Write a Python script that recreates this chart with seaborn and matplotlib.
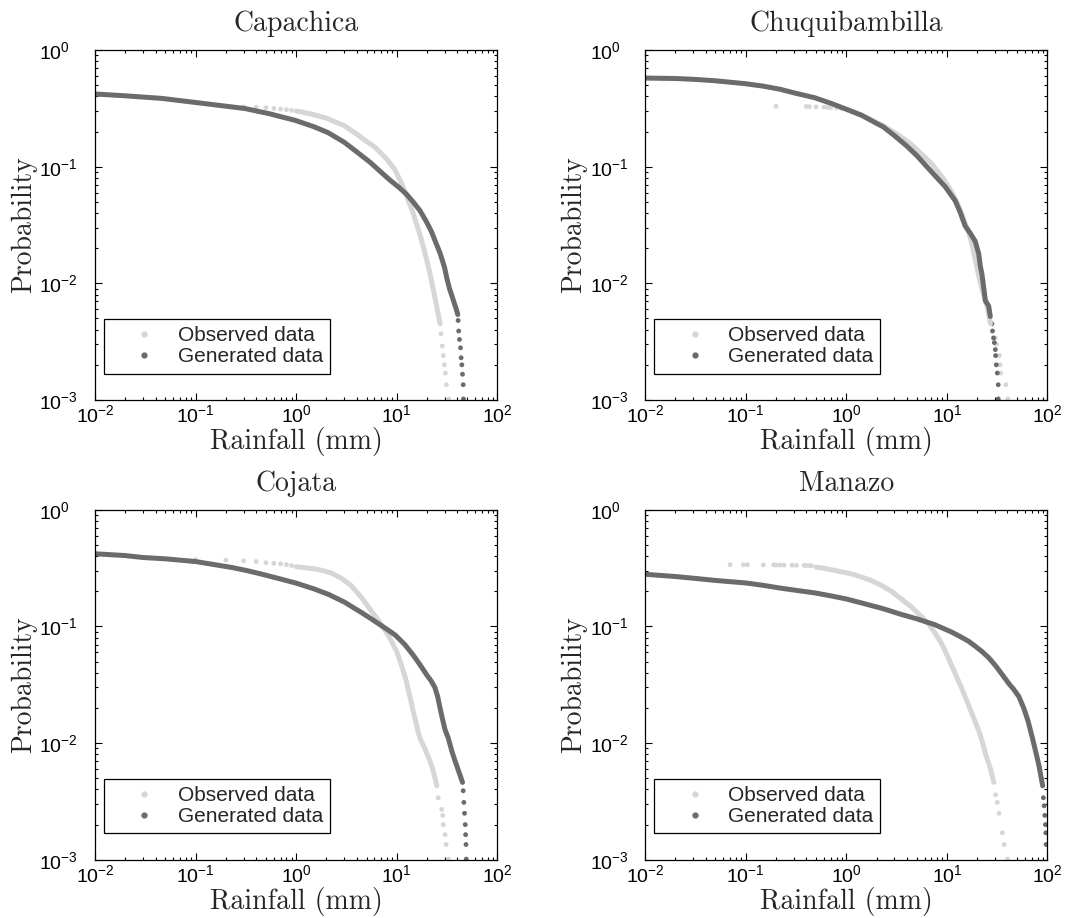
import matplotlib
matplotlib.use('Agg')
import matplotlib.pyplot as plt
from matplotlib.lines import Line2D
from matplotlib.ticker import LogLocator, NullFormatter
import seaborn as sns
import pandas as pd
import numpy as np

# values: (rainfall mm, exceedance probability)
# "line" = dense part of the curve, "dots" = separate points

cap_obs_line = [(1.0, 0.300), (1.41, 0.283), (2.0, 0.26), (3.0, 0.225), (4.0, 0.19), (5.0, 0.165),
                (6.0, 0.148), (7.0, 0.13), (8.0, 0.115), (9.5, 0.095), (11.0, 0.074), (12.5, 0.056),
                (14.4, 0.041), (16.8, 0.027), (18.8, 0.019), (21.1, 0.0127), (23.7, 0.0079),
                (25.6, 0.0056), (27.0, 0.0045)]
cap_obs_dots = [(0.3, 0.325), (0.4, 0.323), (0.5, 0.320), (0.6, 0.316), (0.7, 0.312), (0.8, 0.308), (0.9, 0.304),
                (27.5, 0.0037), (28.3, 0.0029), (29.0, 0.0024), (29.7, 0.0020), (30.4, 0.0017),
                (31.1, 0.00135), (32.7, 0.00102)]
cap_gen_line = [(0.01, 0.42), (0.02, 0.405), (0.046, 0.385), (0.1, 0.355), (0.2, 0.33), (0.31, 0.315),
                (0.535, 0.285), (0.97, 0.25), (1.5, 0.22), (2.07, 0.196), (3.0, 0.162), (4.43, 0.125),
                (5.5, 0.108), (6.75, 0.092), (8.5, 0.077), (10.6, 0.066), (12.5, 0.058), (14.5, 0.050),
                (17.0, 0.042), (19.6, 0.034), (22.0, 0.028), (24.6, 0.022), (27.0, 0.018), (29.8, 0.0137),
                (31.5, 0.011), (33.4, 0.009), (35.5, 0.0077), (37.4, 0.0067), (39.0, 0.006), (40.4, 0.0054)]
cap_gen_dots = [(40.7, 0.0048), (41.2, 0.0039), (42.0, 0.0033), (43.0, 0.0028), (43.6, 0.0023),
                (44.3, 0.0020), (45.0, 0.00166), (45.7, 0.00135), (46.0, 0.00102)]

chu_obs_line = [(1.0, 0.31), (1.5, 0.27), (2.32, 0.225), (3.2, 0.19), (4.33, 0.158), (5.5, 0.13),
                (6.92, 0.108), (8.2, 0.09), (9.45, 0.077), (11.0, 0.062), (12.4, 0.051), (13.8, 0.041),
                (15.1, 0.033), (16.5, 0.027), (17.7, 0.022), (18.8, 0.017), (19.9, 0.0136), (21.0, 0.011),
                (22.3, 0.009), (23.7, 0.0075), (25.1, 0.0064), (27.1, 0.0045)]
chu_obs_dots = [(0.2, 0.33), (0.4, 0.328), (0.43, 0.327), (0.5, 0.326), (0.6, 0.324), (0.65, 0.322),
                (0.7, 0.32), (0.8, 0.318), (0.9, 0.315),
                (30.3, 0.0034), (31.2, 0.0030), (33.2, 0.0024), (33.7, 0.0020), (34.2, 0.0017),
                (38.6, 0.00135), (40.4, 0.00102)]
chu_gen_line = [(0.01, 0.575), (0.02, 0.57), (0.0316, 0.56), (0.05, 0.545), (0.098, 0.515), (0.15, 0.49),
                (0.222, 0.46), (0.3, 0.43), (0.485, 0.39), (0.7, 0.35), (1.06, 0.305), (1.42, 0.276),
                (2.0, 0.235), (2.32, 0.22), (3.0, 0.185), (4.0, 0.15), (5.0, 0.125), (6.0, 0.105),
                (7.5, 0.085), (9.67, 0.067), (12.1, 0.051), (13.5, 0.041), (15.2, 0.031), (17.0, 0.027),
                (19.1, 0.023), (20.7, 0.018), (21.5, 0.014), (22.3, 0.012), (23.5, 0.0085), (24.1, 0.0071),
                (26.0, 0.0064), (27.0, 0.0052)]
chu_gen_dots = [(28.0, 0.0045), (28.4, 0.0039), (29.1, 0.0034), (29.6, 0.0031), (30.3, 0.0027),
                (30.5, 0.0024), (31.0, 0.0020), (31.7, 0.0017), (32.4, 0.00135), (32.4, 0.00102)]

coj_obs_line = [(1.0, 0.325), (1.6, 0.31), (2.19, 0.289), (2.77, 0.261), (3.5, 0.225), (4.43, 0.178),
                (5.0, 0.155), (5.6, 0.135), (6.3, 0.118), (7.08, 0.103), (8.0, 0.087), (8.61, 0.078),
                (9.9, 0.062), (11.0, 0.048), (12.2, 0.036), (13.5, 0.025), (14.5, 0.019), (15.5, 0.015),
                (16.5, 0.012), (17.4, 0.0105), (19.0, 0.009), (20.4, 0.0077), (21.8, 0.0067),
                (23.0, 0.0058), (25.0, 0.0043)]
coj_obs_dots = [(0.1, 0.375), (0.2, 0.37), (0.3, 0.365), (0.4, 0.36), (0.5, 0.352), (0.6, 0.348),
                (0.7, 0.344), (0.8, 0.338), (0.9, 0.332),
                (25.8, 0.0034), (27.9, 0.0027), (28.6, 0.0024), (29.0, 0.0020), (30.2, 0.00164),
                (30.9, 0.00135), (32.7, 0.00101)]
coj_gen_line = [(0.01, 0.42), (0.02, 0.405), (0.03, 0.39), (0.05, 0.38), (0.1, 0.36), (0.15, 0.34),
                (0.23, 0.32), (0.33, 0.30), (0.46, 0.28), (0.7, 0.255), (1.0, 0.235), (1.5, 0.21),
                (2.1, 0.188), (3.0, 0.162), (4.43, 0.132), (5.5, 0.117), (6.75, 0.104), (8.2, 0.093),
                (9.7, 0.084), (12.0, 0.07), (14.5, 0.057), (17.0, 0.047), (19.6, 0.039), (22.0, 0.034),
                (23.9, 0.030), (25.5, 0.025), (26.9, 0.020), (28.5, 0.016), (30.2, 0.013), (32.5, 0.011),
                (35.3, 0.0085), (38.0, 0.007), (41.3, 0.0057), (45.0, 0.0046)]
coj_gen_dots = [(45.7, 0.0039), (46.4, 0.0031), (47.1, 0.0025), (47.9, 0.0020), (48.3, 0.00164),
                (48.7, 0.00135), (49.0, 0.00101)]

man_obs_line = [(0.5, 0.322), (0.567, 0.318), (0.66, 0.31), (0.8, 0.30), (0.97, 0.29), (1.17, 0.28),
                (1.42, 0.265), (1.78, 0.247), (2.23, 0.225), (2.81, 0.2), (3.53, 0.172), (4.44, 0.147),
                (5.57, 0.122), (6.65, 0.104), (7.6, 0.088), (8.73, 0.073), (9.6, 0.062), (10.5, 0.052),
                (12.0, 0.04), (13.9, 0.030), (15.8, 0.023), (17.7, 0.018), (20.6, 0.013), (22.3, 0.0105),
                (24.1, 0.0082), (25.6, 0.007), (27.1, 0.006), (29.3, 0.0046)]
man_obs_dots = [(0.07, 0.338), (0.095, 0.338), (0.104, 0.338), (0.15, 0.337), (0.19, 0.337), (0.2, 0.336),
                (0.22, 0.336), (0.24, 0.335), (0.29, 0.335), (0.32, 0.334), (0.38, 0.334), (0.4, 0.333),
                (0.43, 0.333), (0.45, 0.332),
                (30.5, 0.0036), (31.7, 0.0031), (33.0, 0.0025), (35.6, 0.0017), (37.1, 0.00135),
                (40.1, 0.00101)]
man_gen_line = [(0.01, 0.28), (0.02, 0.268), (0.0316, 0.258), (0.05, 0.248), (0.1, 0.236), (0.15, 0.225),
                (0.222, 0.213), (0.33, 0.203), (0.485, 0.194), (0.7, 0.183), (1.0, 0.172), (1.5, 0.157),
                (2.32, 0.142), (3.5, 0.127), (5.06, 0.116), (6.5, 0.108), (7.48, 0.104), (9.0, 0.097),
                (11.0, 0.09), (13.5, 0.082), (16.3, 0.075), (19.0, 0.068), (22.3, 0.061), (26.0, 0.054),
                (30.5, 0.046), (36.0, 0.038), (41.7, 0.032), (46.0, 0.029), (52.0, 0.025), (58.0, 0.02),
                (64.0, 0.0155), (70.9, 0.011), (77.0, 0.0082), (82.6, 0.0063), (86.0, 0.0052), (89.5, 0.0043)]
man_gen_dots = [(91.0, 0.0034), (92.5, 0.0029), (94.0, 0.0024), (95.4, 0.0020), (96.2, 0.0017),
                (96.9, 0.00135)]

stations = ['Capachica', 'Chuquibambilla', 'Cojata', 'Manazo']
series = [(cap_obs_line, cap_obs_dots, cap_gen_line, cap_gen_dots),
          (chu_obs_line, chu_obs_dots, chu_gen_line, chu_gen_dots),
          (coj_obs_line, coj_obs_dots, coj_gen_line, coj_gen_dots),
          (man_obs_line, man_obs_dots, man_gen_line, man_gen_dots)]
labels = ['Observed data', 'Generated data']

light = '#d6d6d6'
dark = '#6b6b6b'

sns.set_style('ticks')
plt.rcParams.update({
    'font.family': ['Liberation Sans', 'DejaVu Sans'],
    'mathtext.fontset': 'custom',
    'mathtext.rm': 'Liberation Sans',
    'mathtext.it': 'Liberation Sans:italic',
    'mathtext.bf': 'Liberation Sans:bold',
    'axes.edgecolor': 'black',
    'xtick.color': 'black',
    'ytick.color': 'black',
})


def to_df(pts):
    return pd.DataFrame(pts, columns=['rain', 'prob'])


fig, axes = plt.subplots(2, 2, figsize=(10.77, 9.18), dpi=100)
plt.subplots_adjust(left=0.0882, right=0.9726, bottom=0.0635, top=0.9455, wspace=0.367, hspace=0.314)

for ax, name, (obs_line, obs_dots, gen_line, gen_dots) in zip(axes.flat, stations, series):
    ax.set_xscale('log')
    ax.set_yscale('log')
    for line, dots, col in [(obs_line, obs_dots, light), (gen_line, gen_dots, dark)]:
        sns.lineplot(data=to_df(line), x='rain', y='prob', ax=ax, color=col, lw=3.6,
                     sort=False, estimator=None, solid_capstyle='round')
        sns.scatterplot(data=to_df(dots), x='rain', y='prob', ax=ax, color=col, s=12,
                        edgecolor='none', linewidth=0)
    ax.set_xlim(1e-2, 1e2)
    ax.set_ylim(1e-3, 1)
    ax.xaxis.set_major_locator(LogLocator(base=10, numticks=10))
    ax.yaxis.set_major_locator(LogLocator(base=10, numticks=10))
    ax.xaxis.set_minor_locator(LogLocator(base=10, subs=np.arange(2, 10), numticks=50))
    ax.yaxis.set_minor_locator(LogLocator(base=10, subs=np.arange(2, 10), numticks=50))
    ax.xaxis.set_minor_formatter(NullFormatter())
    ax.yaxis.set_minor_formatter(NullFormatter())
    ax.tick_params(which='both', direction='in', top=True, right=True, width=0.8, labelsize=14)
    ax.tick_params(which='major', length=5)
    ax.tick_params(which='minor', length=2.5)
    ax.tick_params(axis='x', which='major', pad=3)
    # MATLAB-like: the "10" of every y label starts at the same place
    ax.tick_params(axis='y', which='major', pad=40)
    plt.setp(ax.get_yticklabels(), ha='left')
    for sp in ax.spines.values():
        sp.set_color('black')
        sp.set_linewidth(0.9)
    ax.set_title(name, fontsize=20, family='cmr10', pad=13.5)
    ax.set_xlabel('Rainfall (mm)', fontsize=20, family='cmr10', labelpad=1)
    ax.set_ylabel('Probability', fontsize=20, family='cmr10', labelpad=2)

    handles = [Line2D([0], [0], marker='o', ls='none', color=light, markersize=3.5),
               Line2D([0], [0], marker='o', ls='none', color=dark, markersize=3.5)]
    leg = ax.legend(handles=handles, labels=labels, loc='lower left', bbox_to_anchor=(0.022, 0.075),
                    borderaxespad=0, frameon=True, fancybox=False, edgecolor='black', framealpha=1,
                    fontsize=15, handlelength=3.2, handletextpad=0.0, borderpad=0.35, labelspacing=0.1)
    leg.get_frame().set_linewidth(0.9)

fig.savefig('out.png', dpi=100)
